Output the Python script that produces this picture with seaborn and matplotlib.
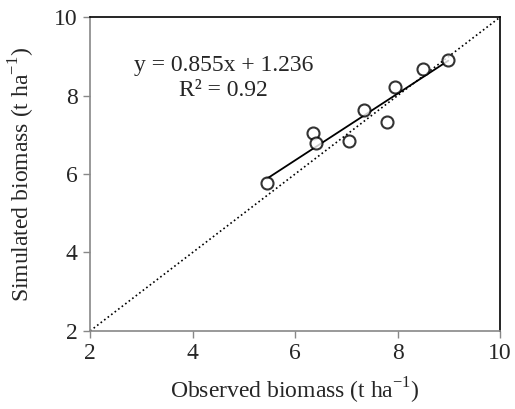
import numpy as np
import pandas as pd
from matplotlib import pyplot as plt
import seaborn as sns

# observed vs simulated biomass (t/ha)
observed = [5.45, 6.35, 6.40, 7.05, 7.35, 7.80, 7.95, 8.50, 8.99]
simulated = [5.78, 7.04, 6.78, 6.83, 7.63, 7.33, 8.22, 8.68, 8.92]
ticks = [2, 4, 6, 8, 10]

df = pd.DataFrame({'obs': observed, 'sim': simulated})

sns.set_style('white')
plt.rcParams['font.family'] = ['Liberation Serif', 'DejaVu Serif']
plt.rcParams['mathtext.fontset'] = 'custom'
plt.rcParams['mathtext.rm'] = 'Liberation Serif'

fs = 17

fig = plt.figure(figsize=(5.15, 4.09), dpi=100)
ax = fig.add_axes([0.175, 0.191, 0.796, 0.767])

# 1:1 line
ax.plot([2, 10], [2, 10], color='black', linestyle=':', linewidth=1.2)

sns.regplot(data=df, x='obs', y='sim', ax=ax, ci=None, truncate=True,
            scatter_kws=dict(s=75, facecolors='white', edgecolors='black',
                             linewidths=1.5, zorder=3),
            line_kws=dict(color='black', linewidth=1.3))

ax.set_xlim(2, 10)
ax.set_ylim(2, 10)
ax.set_xticks(ticks)
ax.set_yticks(ticks)
ax.tick_params(axis='both', labelsize=fs, direction='out', length=5,
               color='#888888', width=1, bottom=True, left=True, pad=4)
ax.set_xlabel('Observed biomass (t ha$^{\\mathregular{-1}}$)', fontsize=fs, labelpad=8)
ax.set_ylabel('Simulated biomass (t ha$^{\\mathregular{-1}}$)', fontsize=fs, labelpad=12)

for side in ['left', 'bottom']:
    ax.spines[side].set_color('#888888')
for side in ['top', 'right']:
    ax.spines[side].set_color('black')
for s in ax.spines.values():
    s.set_linewidth(1.2)

ax.text(4.6, 8.78, 'y = 0.855x + 1.236', fontsize=fs, ha='center', va='center')
ax.text(4.6, 8.14, 'R² = 0.92', fontsize=fs, ha='center', va='center')

plt.savefig('out.png', dpi=100)
